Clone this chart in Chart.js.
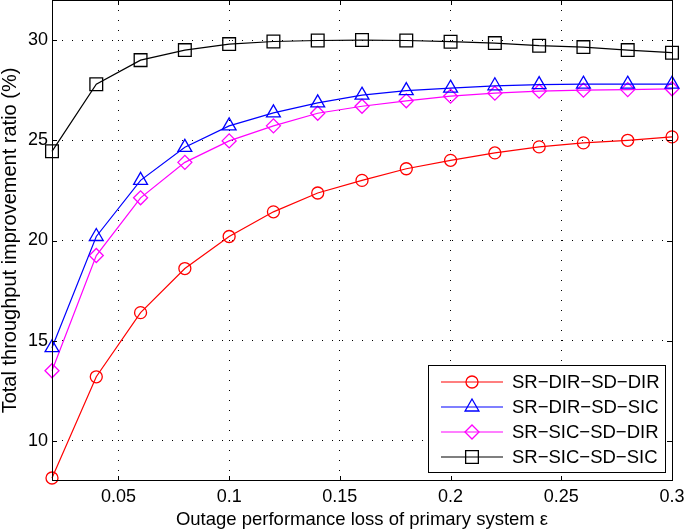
<!DOCTYPE html>
<html>
<head>
<meta charset="utf-8">
<script src="https://cdn.jsdelivr.net/npm/chart.js@4/dist/chart.umd.min.js"></script>
<style>
  html, body { margin: 0; padding: 0; background: #fff; }
  #wrap { width: 685px; height: 531px; position: relative; }
</style>
</head>
<body>
<div id="wrap"><canvas id="c"></canvas></div>
<script>
// ---- Data ----
const xValues = [0.02, 0.04, 0.06, 0.08, 0.10, 0.12, 0.14, 0.16, 0.18, 0.20, 0.22, 0.24, 0.26, 0.28, 0.30];
const srDirSdDir = [8.15, 13.2, 16.4, 18.6, 20.2, 21.43, 22.37, 23.0, 23.58, 24.0, 24.37, 24.67, 24.87, 25.0, 25.17];
const srDirSdSic = [14.65, 20.2, 23.0, 24.65, 25.72, 26.37, 26.87, 27.25, 27.48, 27.6, 27.72, 27.78, 27.8, 27.8, 27.8];
const srSicSdDir = [13.5, 19.25, 22.13, 23.9, 24.97, 25.72, 26.35, 26.7, 26.97, 27.2, 27.35, 27.45, 27.5, 27.53, 27.57];
const srSicSdSic = [24.45, 27.8, 29.0, 29.5, 29.8, 29.93, 29.98, 30.0, 29.98, 29.92, 29.85, 29.72, 29.65, 29.5, 29.37];
const seriesLabels = ['SR\u2212DIR\u2212SD\u2212DIR', 'SR\u2212DIR\u2212SD\u2212SIC', 'SR\u2212SIC\u2212SD\u2212DIR', 'SR\u2212SIC\u2212SD\u2212SIC'];
const xTickValues = [0.05, 0.1, 0.15, 0.2, 0.25, 0.3];
const xTickLabels = ['0.05', '0.1', '0.15', '0.2', '0.25', '0.3'];
const yTickValues = [10, 15, 20, 25, 30];
const yTickLabels = ['10', '15', '20', '25', '30'];
const xTitle = 'Outage performance loss of primary system \u03b5';
const yTitle = 'Total throughput improvement ratio (%)';

// ---- Styles ----
const FONT = '"Liberation Sans", Arial, Helvetica, sans-serif';
const styles = [
  { color: '#ff0000', pointStyle: 'circle', radius: 6 },
  { color: '#0000ff', pointStyle: 'triangle', radius: 8 },
  { color: '#ff00ff', pointStyle: 'rectRot', radius: 7 },
  { color: '#000000', pointStyle: 'rect', radius: 9 }
];
const allSeries = [srDirSdDir, srDirSdSic, srSicSdDir, srSicSdSic];

const datasets = allSeries.map((vals, i) => ({
  label: seriesLabels[i],
  data: xValues.map((x, j) => ({ x: x, y: vals[j] })),
  borderColor: styles[i].color,
  backgroundColor: 'rgba(0,0,0,0)',
  borderWidth: 1.2,
  pointStyle: styles[i].pointStyle,
  pointRadius: styles[i].radius,
  pointHoverRadius: styles[i].radius,
  pointBorderColor: styles[i].color,
  pointBackgroundColor: 'rgba(0,0,0,0)',
  pointBorderWidth: 1.3,
  tension: 0,
  clip: false
}));

const framePlugin = {
  id: 'frame',
  afterDraw(chart) {
    const ctx = chart.ctx;
    const a = chart.chartArea;
    const xs = chart.scales.x, ys = chart.scales.y;
    ctx.save();
    ctx.strokeStyle = '#000';
    ctx.lineWidth = 1;
    ctx.setLineDash([]);
    ctx.strokeRect(Math.round(a.left) + 0.5, Math.round(a.top) + 0.5, Math.round(a.right - a.left), Math.round(a.bottom - a.top) - 1);
    const tl = 5;
    ctx.beginPath();
    yTickValues.forEach(v => {
      const py = Math.round(ys.getPixelForValue(v)) + 0.5;
      ctx.moveTo(a.left, py); ctx.lineTo(a.left + tl, py);
      ctx.moveTo(a.right, py); ctx.lineTo(a.right - tl, py);
    });
    xTickValues.forEach(v => {
      const px = Math.round(xs.getPixelForValue(v)) + 0.5;
      ctx.moveTo(px, a.bottom); ctx.lineTo(px, a.bottom - tl);
      ctx.moveTo(px, a.top); ctx.lineTo(px, a.top + tl);
    });
    ctx.stroke();

    // Legend
    const bx = 428.5, by = 365.5, bw = 237, bh = 107;
    ctx.fillStyle = '#fff';
    ctx.fillRect(bx, by, bw, bh);
    ctx.strokeRect(bx, by, bw, bh);
    chart.data.datasets.forEach((ds, i) => {
      const y = 382 + i * 25;
      ctx.strokeStyle = ds.borderColor;
      ctx.lineWidth = 1.2;
      ctx.beginPath();
      ctx.moveTo(441, y); ctx.lineTo(503, y);
      ctx.stroke();
      ctx.lineWidth = 1.3;
      ctx.fillStyle = 'rgba(0,0,0,0)';
      Chart.helpers.drawPoint(ctx, { pointStyle: ds.pointStyle, radius: ds.pointRadius, borderWidth: 1.3, rotation: 0 }, 472, y);
      ctx.fillStyle = '#000';
      ctx.font = '18.5px ' + FONT;
      ctx.textAlign = 'left';
      ctx.textBaseline = 'middle';
      ctx.fillText(ds.label, 512, y + 1);
    });
    ctx.restore();
  }
};

new Chart(document.getElementById('c'), {
  type: 'line',
  data: { datasets: datasets },
  options: {
    responsive: true,
    maintainAspectRatio: false,
    animation: false,
    devicePixelRatio: 1,
    layout: { autoPadding: false, padding: { left: 0, right: 13, top: 0, bottom: 0 } },
    plugins: { legend: { display: false }, tooltip: { enabled: false } },
    scales: {
      x: {
        type: 'linear',
        min: 0.02,
        max: 0.3,
        afterBuildTicks(scale) { scale.ticks = xTickValues.map(v => ({ value: v })); },
        afterFit(scale) { scale.height = 50; scale.paddingLeft = 0; scale.paddingRight = 0; },
        ticks: {
          autoSkip: false,
          maxRotation: 0,
          padding: 5,
          color: '#000',
          font: { family: FONT, size: 18 },
          callback(value) { const k = xTickValues.indexOf(value); return k >= 0 ? xTickLabels[k] : ''; }
        },
        grid: { display: true, color: '#000', lineWidth: 1, drawTicks: false },
        border: { display: false, dash: [1, 9] },
        title: { display: true, text: xTitle, color: '#000', font: { family: FONT, size: 18.5, lineHeight: 1.2 }, padding: { top: 0, bottom: 0 } }
      },
      y: {
        type: 'linear',
        min: 8,
        max: 32,
        afterBuildTicks(scale) { scale.ticks = yTickValues.map(v => ({ value: v })); },
        afterFit(scale) { scale.width = 52; scale.paddingTop = 0; scale.paddingBottom = 0; },
        ticks: {
          autoSkip: false,
          padding: 4,
          color: '#000',
          font: { family: FONT, size: 18, lineHeight: 0.01 },
          callback(value) { const k = yTickValues.indexOf(value); return k >= 0 ? yTickLabels[k] : ''; }
        },
        grid: { display: true, color: '#000', lineWidth: 1, drawTicks: false },
        border: { display: false, dash: [1, 9] },
        title: { display: true, text: yTitle, color: '#000', font: { family: FONT, size: 20, lineHeight: 1 }, padding: { top: 0, bottom: 0 } }
      }
    }
  },
  plugins: [framePlugin]
});
</script>
</body>
</html>
